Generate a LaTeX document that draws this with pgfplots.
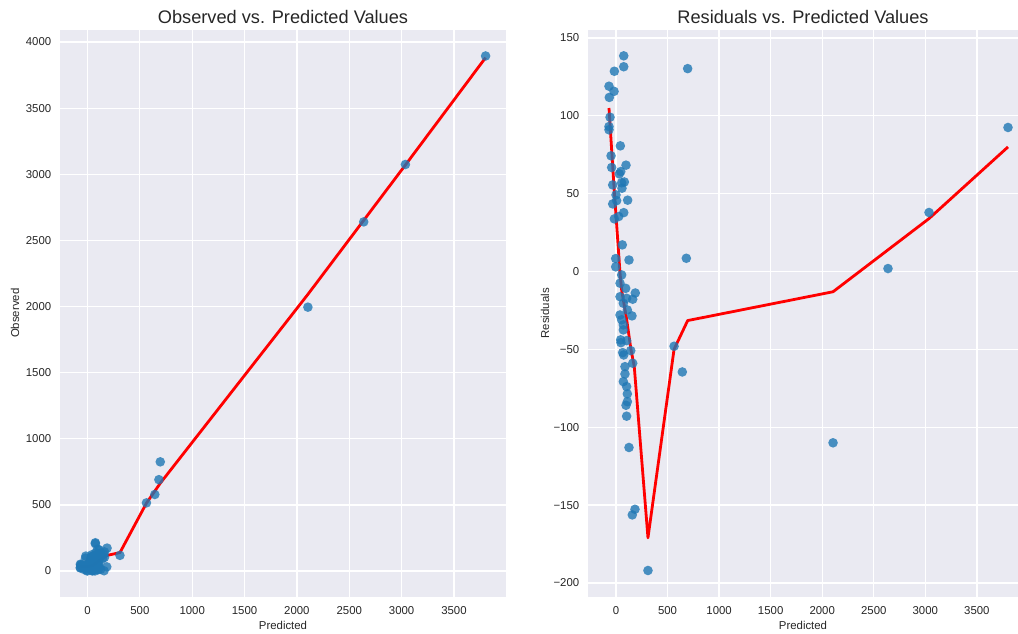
\documentclass[border=0pt]{standalone}
\usepackage{fontspec}
\setmainfont{Liberation Sans}
\usepackage{pgfplots}
\usepackage{pgfplotstable}
\pgfplotsset{compat=1.18}

\definecolor{bgcol}{HTML}{EAEAF2}
\definecolor{ptcol}{HTML}{1F77B4}
\definecolor{txtcol}{HTML}{262626}

% predicted value, observed value, residual (observed - predicted)
\pgfplotstableread{
pred obs res
75 213.5 138.5
75 206.5 131.5
-16 112.6 128.6
695 825.3 130.3
-68 51.0 119.0
-19 96.7 115.7
-65 46.8 111.8
-58 41.1 99.1
-68 25.1 93.1
-68 23.0 91.0
42 122.7 80.7
-48 26.3 74.3
97 165.3 68.3
-42 24.8 66.8
46 110.2 64.2
32 94.7 62.7
81 138.5 57.5
55 112.0 57.0
-32 23.6 55.6
58 111.5 53.5
0 49.2 49.2
113 158.8 45.8
6 51.5 45.5
-32 11.4 43.4
75 112.8 37.8
26 61.3 35.3
-16 17.8 33.8
61 78.1 17.1
-3 5.3 8.3
126 133.4 7.4
682 690.5 8.5
-3 0.0 3.0
55 52.8 -2.2
39 31.5 -7.5
94 83.2 -10.8
187 173.2 -13.8
39 22.8 -16.2
103 85.8 -17.2
162 144.2 -17.8
71 50.6 -20.4
110 85.3 -24.7
39 11.1 -27.9
155 126.5 -28.5
55 24.0 -31.0
71 36.7 -34.3
71 33.5 -37.5
45 1.1 -43.9
103 58.6 -44.4
48 2.3 -45.7
143 92.2 -50.8
65 12.9 -52.1
75 21.4 -53.6
563 515.0 -48.0
162 103.1 -58.9
643 578.5 -64.5
87 25.9 -61.1
87 21.2 -65.8
71 0.3 -70.7
103 29.1 -73.9
110 31.4 -78.6
110 26.4 -83.6
97 11.1 -85.9
103 10.1 -92.9
126 13.0 -113.0
184 31.3 -152.7
158 1.7 -156.3
310 118.0 -192.0
2105 1995.0 -110.0
2638 2639.9 1.9
3036 3073.9 37.9
3802 3894.5 92.5
}\pts

% LOWESS curve
\pgfplotstableread{
pred obs res
-68 37 105
-19 35 54
39 38 -1
55 43 -12
104 73 -31
145 95 -50
177 116 -61
310 139 -171
563 513 -50
695 663.5 -31.5
2105 2092 -13
3036 3070 34
3802 3882 80
}\fit

\pgfplotsset{
  sea/.style={
    scale only axis,
    axis background/.style={fill=bgcol},
    axis line style={draw=none},
    major tick length=0pt,
    tick style={draw=none},
    grid=major,
    major grid style={white, line width=0.65pt},
    tick label style={font=\fontsize{5.7}{6.8}\selectfont, text=txtcol},
    xticklabel style={anchor=base, yshift=-8.75pt, inner sep=0pt},
    yticklabel style={anchor=east, xshift=-4.2pt, inner sep=0pt},
    label style={font=\fontsize{5.7}{6.8}\selectfont, text=txtcol},
    every axis title shift=0pt,
    title style={font=\fontsize{9.1}{10.9}\selectfont, text=txtcol,
      at={(axis description cs:0.5,1)}, anchor=base, yshift=3pt},
    xlabel style={at={(axis description cs:0.5,0)}, anchor=base,
      yshift=-16.25pt, inner sep=0pt},
    scaled ticks=false,
    xtick={0,500,1000,1500,2000,2500,3000,3500},
    xticklabels={0,500,1000,1500,2000,2500,3000,3500},
  },
  dots/.style={only marks, mark=*, mark size=2.4pt,
    mark options={fill=ptcol, fill opacity=0.8, draw opacity=0}},
  lowess/.style={red, line width=1.4pt, line join=round, mark=none},
}

\begin{document}
\begin{tikzpicture}
\useasboundingbox (0,0) rectangle (509pt,316.5pt);

\begin{axis}[sea,
  at={(30pt,18.25pt)}, anchor=south west,
  width=223pt, height=283.25pt,
  xmin=-262.6, xmax=3997, ymin=-193, ymax=4091,
  ytick={0,500,1000,1500,2000,2500,3000,3500,4000},
  yticklabels={0,500,1000,1500,2000,2500,3000,3500,4000},
  title={Observed vs. Predicted Values},
  xlabel={Predicted}, ylabel={Observed},
  ylabel style={at={([xshift=-20.5pt]axis description cs:0,0.5)}, anchor=base, inner sep=0pt},
]
\addplot[dots] table[x=pred, y=obs] {\pts};
\addplot[lowess] table[x=pred, y=obs] {\fit};
\end{axis}

\begin{axis}[sea,
  at={(294pt,18.25pt)}, anchor=south west,
  width=215pt, height=283.25pt,
  xmin=-271.6, xmax=3899, ymin=-208.7, ymax=155.1,
  ytick={-200,-150,-100,-50,0,50,100,150},
  yticklabels={−200,−150,−100,−50,0,50,100,150},
  title={Residuals vs. Predicted Values},
  xlabel={Predicted}, ylabel={Residuals},
  ylabel style={at={([xshift=-19.5pt]axis description cs:0,0.5)}, anchor=base, inner sep=0pt},
]
\addplot[dots] table[x=pred, y=res] {\pts};
\addplot[lowess] table[x=pred, y=res] {\fit};
\end{axis}
\end{tikzpicture}
\end{document}
